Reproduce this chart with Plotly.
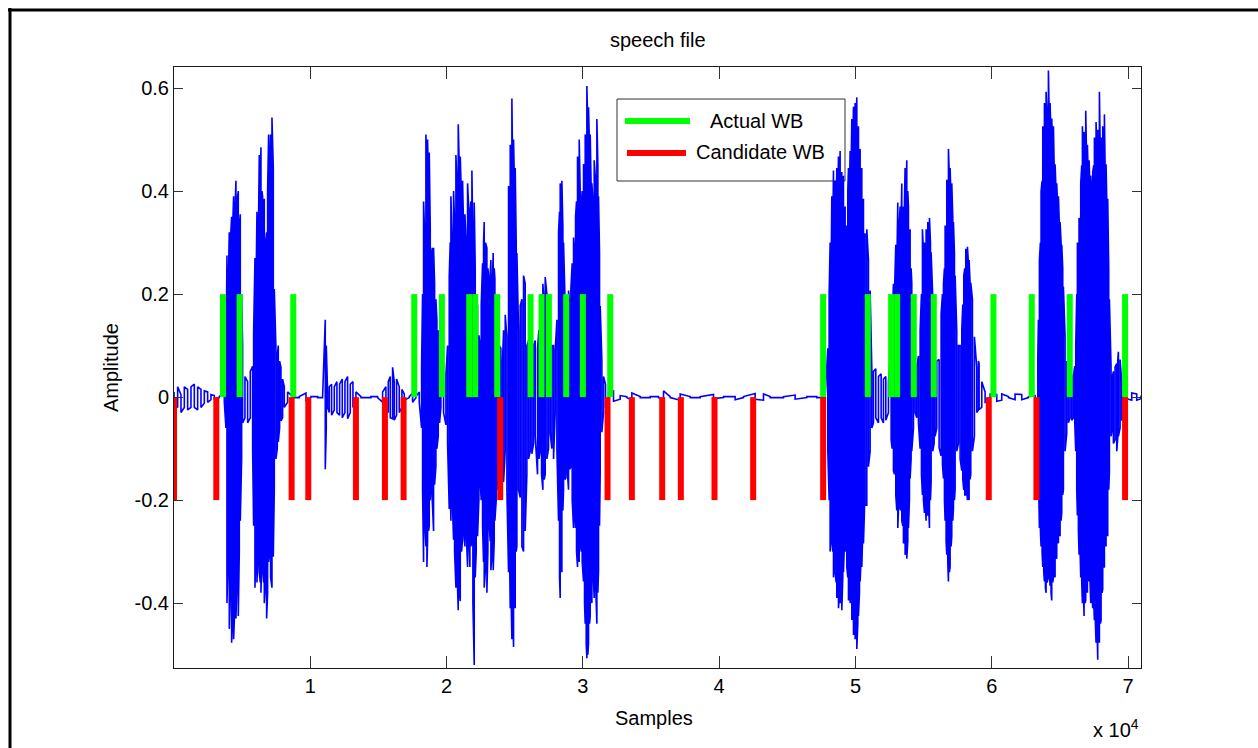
import plotly.graph_objects as go

# ---------------------------------------------------------------------------
# Speech waveform, described by its per-position upper / lower excursion
# (sample index, positive peak, negative peak)
# ---------------------------------------------------------------------------
env_pos = [
    1, 269, 513, 758, 1002, 1247, 1491, 1736, 1980, 2225, 2469, 2714, 2958, 3325, 3692,
    3814, 3887, 3985, 4058, 4132, 4229, 4303, 4376, 4474, 4547, 4621, 4718, 4792, 4865, 4963, 5036,
    5207, 5403, 5599, 5770,
    5843, 5941, 6014, 6088, 6185, 6259, 6332, 6381, 6454, 6503, 6577, 6626, 6723, 6797, 6870, 6943,
    7017, 7090, 7188, 7286, 7359, 7481, 7579,
    7652, 7750, 7848, 7970, 8093, 8337,
    8704, 9193, 9682, 10049, 10538, 10904, 11100, 11173, 11271,
    11393, 11564, 11760, 11956, 12152, 12347, 12543, 12738, 12934, 13130, 13350, 13716, 14450, 14939,
    15305, 15550, 15721, 15868, 16039, 16161, 16332, 16528, 16724, 16895, 17261, 17506, 17750,
    17995, 18166, 18239, 18313, 18410, 18484, 18557, 18606, 18680, 18729, 18802, 18851, 18949, 19046,
    19120, 19217, 19291, 19389, 19486, 19584,
    19780, 19951, 20073, 20195, 20269, 20318, 20416, 20513, 20587, 20685, 20758, 20856, 20929, 21003,
    21100, 21174, 21247, 21345, 21442, 21540, 21638, 21711, 21784, 21858, 21931, 22029, 22102, 22175,
    22273, 22371, 22469, 22542, 22640, 22713, 22762, 22860, 22958, 23031, 23129, 23202, 23251, 23349,
    23422, 23496, 23545, 23642, 23740, 23862, 23985, 24107,
    24181, 24303, 24425, 24547, 24621, 24670, 24743, 24792, 24865, 24914, 24987, 25036, 25110, 25159,
    25281, 25403, 25525, 25648, 25770, 25892, 26014, 26137, 26259, 26381, 26503, 26674, 26772, 26870,
    26968, 27066, 27163, 27237, 27359, 27481, 27603, 27726, 27848, 27970,
    28093, 28215, 28288, 28337, 28410, 28459, 28533, 28582, 28679, 28753, 28851, 28948, 29046, 29119,
    29217, 29315, 29388, 29462, 29535, 29608, 29682, 29731, 29804, 29877, 29951, 30049, 30122, 30171,
    30244, 30293, 30366, 30415, 30489, 30538, 30611, 30660, 30733, 30831, 30929, 31027, 31100, 31149,
    31222, 31271, 31393, 31516, 31663, 31883,
    32249, 32738, 33227, 33594, 34205, 34939, 35550, 35917, 36406, 37139, 37873, 38606, 39584, 40318,
    41173, 41785, 42640, 43252, 43741, 44719, 45574, 46430, 47163, 47776,
    47971, 48069, 48142, 48216, 48265, 48338, 48387, 48460, 48509, 48582, 48631, 48705, 48754, 48827,
    48876, 48949, 48998, 49071, 49120, 49194, 49243, 49316, 49365, 49438, 49487, 49560, 49609, 49683,
    49732, 49805, 49854, 49927, 49976, 50049, 50098, 50172, 50221, 50294, 50343, 50416, 50465, 50538,
    50587, 50660, 50709, 50832, 50954, 51076, 51199,
    51321, 51492, 51688, 51884, 52055, 52226, 52421,
    52617, 52690, 52788, 52861, 52959, 53032, 53106, 53179, 53277, 53350, 53399, 53472, 53521, 53594,
    53643, 53717, 53766, 53839, 53888, 53961, 54010, 54083, 54132, 54255, 54377, 54499, 54621,
    54744, 54842, 54915, 54988, 55062, 55111, 55184, 55257, 55306, 55380, 55429, 55502, 55551, 55673,
    55771, 55844, 55966,
    56137, 56284, 56382, 56456, 56529, 56578, 56651, 56700, 56773, 56822, 56895, 56944, 57017, 57066,
    57140, 57189, 57262, 57311, 57433, 57556,
    57678, 57800, 57873, 57947, 58020, 58093, 58167, 58216, 58289, 58338, 58411, 58460, 58582, 58729,
    58900, 59023, 59072, 59267, 59512,
    59879, 60367, 60734, 61223, 61712, 62201, 62690, 63179,
    63375, 63424, 63497, 63570, 63619, 63693, 63742, 63815, 63864, 63937, 63986, 64059, 64157, 64230,
    64279, 64352, 64401, 64475, 64524, 64597, 64646, 64719, 64768, 64842, 64891, 64964, 65013, 65086,
    65135, 65208, 65257, 65380, 65502, 65624, 65747, 65869, 65991, 66089,
    66162, 66235, 66284, 66358, 66406, 66480, 66529, 66602, 66651, 66724, 66773, 66847, 66895, 66969,
    67018, 67091, 67140, 67213, 67262, 67336, 67409, 67482, 67531, 67604, 67653, 67727, 67776, 67849,
    67898, 67971, 68020, 68093, 68142, 68216, 68265, 68338, 68387, 68460, 68509, 68582, 68631, 68753,
    68851, 68925, 69047, 69169, 69243, 69291, 69414, 69536, 69658, 69903, 70270, 70636, 70950,
]

env_hi = [
    0.01, 0.02, 0.005, 0.02, 0.015, 0.02, 0.025, 0.02, 0.015, 0.012, 0.01, 0.005, 0.003, 0.001, 0.01,
    0.05, 0.275, 0.22, 0.32, 0.30, 0.35, 0.33, 0.39, 0.36, 0.42, 0.38, 0.40, 0.33, 0.355, 0.20, 0.10,
    0.04, 0.03, 0.05, 0.06,
    0.125, 0.27, 0.20, 0.36, 0.30, 0.47, 0.42, 0.485, 0.40, 0.39, 0.35, 0.385, 0.30, 0.32, 0.40, 0.51,
    0.45, 0.51, 0.543, 0.445, 0.21, 0.095, 0.08,
    0.10, 0.07, 0.058, 0.035, 0.02, 0.01,
    0.001, 0.001, 0.008, 0.001, 0.001, 0.001, 0.15, 0.10, 0.01,
    0.02, 0.025, 0.02, 0.03, 0.025, 0.035, 0.03, 0.04, 0.025, 0.03, 0.01, 0.001, 0.001, 0.001,
    0.01, 0.02, 0.03, 0.04, 0.058, 0.03, 0.035, 0.02, 0.015, 0.006, 0.001, 0.008, 0.001,
    0.01, 0.058, 0.20, 0.38, 0.30, 0.51, 0.42, 0.50, 0.40, 0.475, 0.33, 0.27, 0.29, 0.29,
    0.22, 0.19, 0.15, 0.13, 0.07, 0.03,
    0.03, 0.043, 0.10, 0.235, 0.30, 0.39, 0.30, 0.40, 0.34, 0.47, 0.42, 0.53, 0.45, 0.467,
    0.38, 0.42, 0.33, 0.355, 0.30, 0.415, 0.36, 0.35, 0.38, 0.44, 0.30, 0.378, 0.25, 0.20,
    0.177, 0.12, 0.10, 0.18, 0.26, 0.30, 0.34, 0.30, 0.29, 0.25, 0.22, 0.24, 0.266, 0.22,
    0.28, 0.25, 0.23, 0.16, 0.117, 0.10, 0.095, 0.07,
    0.13, 0.16, 0.117, 0.41, 0.35, 0.49, 0.45, 0.58, 0.40, 0.50, 0.40, 0.445, 0.30, 0.28,
    0.13, 0.177, 0.19, 0.236, 0.22, 0.10, 0.11, 0.088, 0.08, 0.10, 0.11, 0.095, 0.13, 0.177,
    0.20, 0.22, 0.18, 0.233, 0.20, 0.15, 0.10, 0.10, 0.10, 0.09,
    0.15, 0.32, 0.36, 0.415, 0.35, 0.42, 0.33, 0.30, 0.20, 0.13, 0.18, 0.207, 0.18, 0.21,
    0.26, 0.31, 0.28, 0.35, 0.38, 0.467, 0.42, 0.50, 0.40, 0.37, 0.40, 0.452, 0.45, 0.51,
    0.50, 0.604, 0.52, 0.563, 0.48, 0.51, 0.40, 0.415, 0.38, 0.46, 0.42, 0.54, 0.45, 0.39,
    0.28, 0.177, 0.073, 0.04, 0.025, 0.01,
    0.012, 0.003, 0.001, 0.008, 0.001, 0.001, 0.001, 0.012, 0.001, 0.006, 0.001, 0.001, 0.005, 0.001,
    0.001, 0.001, 0.007, 0.006, 0.001, 0.001, 0.004, 0.001, 0.001, 0.001,
    0.095, 0.20, 0.30, 0.25, 0.39, 0.33, 0.44, 0.38, 0.42, 0.37, 0.445, 0.40, 0.467, 0.42,
    0.478, 0.40, 0.437, 0.38, 0.43, 0.36, 0.37, 0.30, 0.333, 0.40, 0.445, 0.40, 0.478, 0.45,
    0.54, 0.48, 0.564, 0.50, 0.571, 0.52, 0.582, 0.48, 0.526, 0.45, 0.482, 0.40, 0.445, 0.35,
    0.385, 0.30, 0.318, 0.326, 0.266, 0.207, 0.058,
    0.05, 0.055, 0.04, 0.045, 0.035, 0.04, 0.03,
    0.10, 0.15, 0.22, 0.20, 0.296, 0.25, 0.378, 0.32, 0.37, 0.34, 0.415, 0.33, 0.37, 0.38,
    0.445, 0.40, 0.46, 0.40, 0.37, 0.30, 0.326, 0.25, 0.222, 0.155, 0.073, 0.06, 0.08,
    0.13, 0.20, 0.326, 0.28, 0.30, 0.25, 0.326, 0.30, 0.34, 0.30, 0.348, 0.30, 0.281, 0.192,
    0.15, 0.117, 0.07,
    0.073, 0.162, 0.20, 0.22, 0.25, 0.333, 0.30, 0.422, 0.40, 0.482, 0.42, 0.445, 0.38, 0.415,
    0.35, 0.34, 0.28, 0.236, 0.13, 0.10,
    0.10, 0.13, 0.18, 0.236, 0.25, 0.288, 0.25, 0.292, 0.26, 0.266, 0.22, 0.222, 0.19, 0.117,
    0.058, 0.07, 0.065, 0.03, 0.01,
    0.006, 0.005, 0.006, 0.001, 0.006, 0.005, 0.001, 0.003,
    0.073, 0.15, 0.266, 0.30, 0.40, 0.42, 0.526, 0.48, 0.571, 0.52, 0.593, 0.55, 0.634, 0.52,
    0.571, 0.50, 0.541, 0.48, 0.526, 0.42, 0.452, 0.40, 0.415, 0.36, 0.39, 0.33, 0.34, 0.30,
    0.296, 0.25, 0.214, 0.117, 0.07, 0.04, 0.04, 0.045, 0.04, 0.06,
    0.10, 0.20, 0.30, 0.28, 0.348, 0.33, 0.415, 0.45, 0.526, 0.45, 0.515, 0.48, 0.556, 0.45,
    0.49, 0.42, 0.46, 0.40, 0.43, 0.40, 0.437, 0.45, 0.504, 0.48, 0.534, 0.47, 0.519, 0.50,
    0.593, 0.46, 0.504, 0.45, 0.526, 0.45, 0.549, 0.40, 0.452, 0.35, 0.385, 0.25, 0.19, 0.058,
    0.04, 0.05, 0.058, 0.065, 0.07, 0.088, 0.073, 0.03, 0.01, 0.003, 0.008, 0.006, 0.003,
]

env_lo = [
    -0.015, -0.02, -0.03, -0.02, -0.025, -0.02, -0.02, -0.025, -0.02, -0.012, -0.01, -0.005, -0.003, -0.001, -0.01,
    -0.06, -0.40, -0.30, -0.45, -0.38, -0.477, -0.42, -0.47, -0.40, -0.43, -0.36, -0.425, -0.30, -0.24, -0.12, -0.05,
    -0.04, -0.05, -0.04, -0.10,
    -0.25, -0.37, -0.30, -0.36, -0.30, -0.34, -0.36, -0.38, -0.30, -0.33, -0.36, -0.40, -0.36, -0.43, -0.38, -0.32,
    -0.30, -0.35, -0.37, -0.31, -0.18, -0.12, -0.10,
    -0.087, -0.06, -0.046, -0.04, -0.02, -0.01,
    -0.001, -0.001, -0.006, -0.001, -0.001, -0.001, -0.14, -0.06, -0.02,
    -0.03, -0.035, -0.025, -0.03, -0.035, -0.04, -0.03, -0.042, -0.03, -0.02, -0.01, -0.001, -0.001, -0.001,
    -0.01, -0.02, -0.03, -0.04, -0.042, -0.045, -0.035, -0.03, -0.02, -0.006, -0.001, -0.01, -0.001,
    -0.01, -0.06, -0.18, -0.32, -0.25, -0.29, -0.33, -0.28, -0.26, -0.25, -0.20, -0.18, -0.20, -0.26,
    -0.17, -0.135, -0.10, -0.076, -0.05, -0.02,
    -0.03, -0.054, -0.09, -0.217, -0.18, -0.24, -0.20, -0.277, -0.30, -0.37, -0.33, -0.414, -0.38, -0.396,
    -0.30, -0.277, -0.25, -0.29, -0.26, -0.33, -0.28, -0.33, -0.29, -0.28, -0.40, -0.52, -0.35, -0.30,
    -0.27, -0.20, -0.165, -0.20, -0.25, -0.32, -0.37, -0.33, -0.38, -0.30, -0.247, -0.28, -0.336, -0.30,
    -0.336, -0.28, -0.24, -0.20, -0.18, -0.14, -0.105, -0.08,
    -0.165, -0.105, -0.18, -0.34, -0.30, -0.41, -0.40, -0.47, -0.43, -0.485, -0.38, -0.41, -0.30, -0.29,
    -0.18, -0.195, -0.29, -0.30, -0.26, -0.15, -0.12, -0.105, -0.11, -0.09, -0.076, -0.15, -0.12, -0.105,
    -0.15, -0.18, -0.16, -0.15, -0.12, -0.10, -0.07, -0.10, -0.12, -0.03,
    -0.10, -0.24, -0.35, -0.39, -0.30, -0.34, -0.22, -0.18, -0.16, -0.157, -0.14, -0.18, -0.14, -0.135,
    -0.20, -0.254, -0.22, -0.254, -0.30, -0.33, -0.30, -0.32, -0.28, -0.30, -0.32, -0.358, -0.40, -0.44,
    -0.48, -0.507, -0.50, -0.477, -0.44, -0.425, -0.38, -0.40, -0.33, -0.39, -0.36, -0.44, -0.38, -0.336,
    -0.25, -0.15, -0.068, -0.03, -0.02, -0.01,
    -0.008, -0.004, -0.001, -0.006, -0.001, -0.001, -0.001, -0.005, -0.001, -0.006, -0.001, -0.001, -0.003, -0.001,
    -0.005, -0.001, -0.004, -0.006, -0.001, -0.001, -0.004, -0.001, -0.001, -0.001,
    -0.105, -0.20, -0.30, -0.25, -0.28, -0.30, -0.35, -0.30, -0.34, -0.36, -0.39, -0.36, -0.41, -0.38,
    -0.40, -0.36, -0.414, -0.35, -0.34, -0.28, -0.30, -0.26, -0.33, -0.35, -0.395, -0.36, -0.40, -0.38,
    -0.433, -0.42, -0.462, -0.44, -0.47, -0.45, -0.489, -0.44, -0.425, -0.38, -0.358, -0.31, -0.33, -0.26,
    -0.284, -0.22, -0.21, -0.21, -0.135, -0.105, -0.06,
    -0.05, -0.04, -0.05, -0.04, -0.05, -0.045, -0.03,
    -0.083, -0.10, -0.143, -0.15, -0.19, -0.22, -0.254, -0.20, -0.217, -0.22, -0.24, -0.25, -0.284, -0.28,
    -0.306, -0.30, -0.314, -0.28, -0.254, -0.20, -0.158, -0.12, -0.105, -0.06, -0.03, -0.04, -0.05,
    -0.10, -0.15, -0.19, -0.20, -0.225, -0.20, -0.24, -0.22, -0.23, -0.22, -0.254, -0.20, -0.165, -0.105,
    -0.09, -0.076, -0.06,
    -0.098, -0.114, -0.13, -0.158, -0.20, -0.24, -0.28, -0.306, -0.32, -0.358, -0.34, -0.33, -0.29, -0.27,
    -0.24, -0.217, -0.20, -0.18, -0.105, -0.09,
    -0.12, -0.143, -0.16, -0.18, -0.19, -0.19, -0.18, -0.20, -0.19, -0.20, -0.16, -0.15, -0.105, -0.076,
    -0.03, -0.025, -0.024, -0.02, -0.01,
    -0.006, -0.008, -0.006, -0.001, -0.005, -0.005, -0.001, -0.003,
    -0.06, -0.15, -0.254, -0.26, -0.29, -0.30, -0.33, -0.34, -0.358, -0.37, -0.38, -0.36, -0.35, -0.34,
    -0.366, -0.38, -0.395, -0.36, -0.35, -0.33, -0.35, -0.30, -0.314, -0.28, -0.284, -0.26, -0.27, -0.24,
    -0.225, -0.19, -0.18, -0.105, -0.07, -0.05, -0.04, -0.045, -0.04, -0.05,
    -0.105, -0.18, -0.23, -0.26, -0.306, -0.30, -0.35, -0.36, -0.40, -0.38, -0.425, -0.40, -0.395, -0.36,
    -0.38, -0.34, -0.358, -0.36, -0.40, -0.38, -0.41, -0.40, -0.433, -0.44, -0.477, -0.45, -0.51, -0.45,
    -0.477, -0.44, -0.433, -0.38, -0.373, -0.33, -0.33, -0.28, -0.29, -0.25, -0.27, -0.18, -0.147, -0.076,
    -0.06, -0.09, -0.083, -0.105, -0.08, -0.076, -0.06, -0.046, -0.01, -0.003, -0.006, -0.006, -0.003,
]

# Word-boundary positions (sample index)
actual_wb = [
    3594, 4816, 8753, 17628, 19657, 21663, 22102, 23716, 26161, 26968, 27506, 28777,
    30000, 32005, 47629, 50905, 52617, 53057, 54279, 55746, 60123, 62935, 65722, 69781,
]
candidate_wb = [
    1, 3105, 8630, 9853, 13349, 15476, 16846, 23936, 31809, 33594, 35819, 37188,
    39657, 42494, 47629, 59780, 63277, 69781,
]

wb_height = 0.2
n_samples = 70950
amp_range = [-0.526, 0.641]
x_tick_vals = [10000, 20000, 30000, 40000, 50000, 60000, 70000]
x_tick_text = ["1", "2", "3", "4", "5", "6", "7"]
y_tick_vals = [-0.4, -0.2, 0, 0.2, 0.4, 0.6]
y_tick_text = ["-0.4", "-0.2", "0", "0.2", "0.4", "0.6"]

FONT = "Liberation Sans, Arial, Helvetica, sans-serif"
BLUE, GREEN, RED = "#0000FF", "#00FF00", "#FF0000"

# dense trace: alternate between the positive and negative excursion
wave_x, wave_y = [], []
for i, (p, hi, lo) in enumerate(zip(env_pos, env_hi, env_lo)):
    wave_x += [p, p]
    wave_y += [hi, lo] if i % 2 == 0 else [lo, hi]


def stems(positions, height):
    xs, ys = [], []
    for p in positions:
        xs += [p, p, None]
        ys += [0, height, None]
    return xs, ys


fig = go.Figure()
fig.add_trace(go.Scatter(
    x=wave_x, y=wave_y, mode="lines",
    line=dict(color=BLUE, width=1.6, simplify=False),
    showlegend=False, hoverinfo="skip",
))
gx, gy = stems(actual_wb, wb_height)
fig.add_trace(go.Scatter(x=gx, y=gy, mode="lines", name="Actual WB",
                         line=dict(color=GREEN, width=6), showlegend=False))
rx, ry = stems(candidate_wb, -wb_height)
fig.add_trace(go.Scatter(x=rx, y=ry, mode="lines", name="Candidate WB",
                         line=dict(color=RED, width=6), showlegend=False))

# plot area geometry (pixels)
W, H = 1258, 748
L, R, T, B = 174, 1141, 67, 668
pw, ph = R - L, B - T


def px(x):
    return (x - L) / pw


def py(y):
    return (B - y) / ph


axis_common = dict(
    showline=True, linecolor="#1a1a1a", linewidth=1, mirror="ticks",
    ticks="inside", tickcolor="#333333", tickwidth=1,
    showgrid=False, zeroline=False,
    tickfont=dict(family=FONT, size=20, color="#000000"),
)

fig.update_layout(
    width=W, height=H,
    margin=dict(l=L, r=W - R, t=T, b=H - B, pad=0),
    paper_bgcolor="#FFFFFF", plot_bgcolor="#FFFFFF",
    font=dict(family=FONT, size=20, color="#000000"),
    showlegend=False,
    xaxis=dict(range=[1, n_samples], tickvals=x_tick_vals, ticktext=x_tick_text,
               ticklen=12, **axis_common),
    yaxis=dict(range=amp_range, tickvals=y_tick_vals, ticktext=y_tick_text,
               ticklen=9, **axis_common),
)

shapes = [
    # outer frame (top and left edges)
    dict(type="line", xref="paper", yref="paper", x0=px(8), x1=px(W + 2), y0=py(10), y1=py(10),
         line=dict(color="#000000", width=3)),
    dict(type="line", xref="paper", yref="paper", x0=px(10), x1=px(10), y0=py(8), y1=py(H + 2),
         line=dict(color="#000000", width=3)),
    # legend box, drawn beneath the waveform
    dict(type="rect", xref="paper", yref="paper", x0=px(617), x1=px(845), y0=py(181), y1=py(99),
         line=dict(color="#333333", width=1), fillcolor="#FFFFFF", layer="below"),
    dict(type="line", xref="paper", yref="paper", x0=px(625), x1=px(690), y0=py(121), y1=py(121),
         line=dict(color=GREEN, width=6), layer="below"),
    dict(type="line", xref="paper", yref="paper", x0=px(627), x1=px(686), y0=py(153), y1=py(153),
         line=dict(color=RED, width=6), layer="below"),
]
fig.update_layout(shapes=shapes)

annotations = [
    dict(text="speech file", x=0.5, y=py(40), xanchor="center", yanchor="middle"),
    dict(text="Samples", x=px(654), y=py(718), xanchor="center", yanchor="middle"),
    dict(text="Amplitude", x=px(111), y=py(368), xanchor="center", yanchor="middle", textangle=-90),
    dict(text="x 10<sup>4</sup>", x=1.0, y=py(743), xanchor="right", yanchor="bottom"),
    dict(text="Actual WB", x=px(756), y=py(121), xanchor="center", yanchor="middle"),
    dict(text="Candidate WB", x=px(760), y=py(152), xanchor="center", yanchor="middle"),
]
for a in annotations:
    a.update(xref="paper", yref="paper", showarrow=False,
             font=dict(family=FONT, size=20, color="#000000"))
fig.update_layout(annotations=annotations)

fig.write_html("out.html")
